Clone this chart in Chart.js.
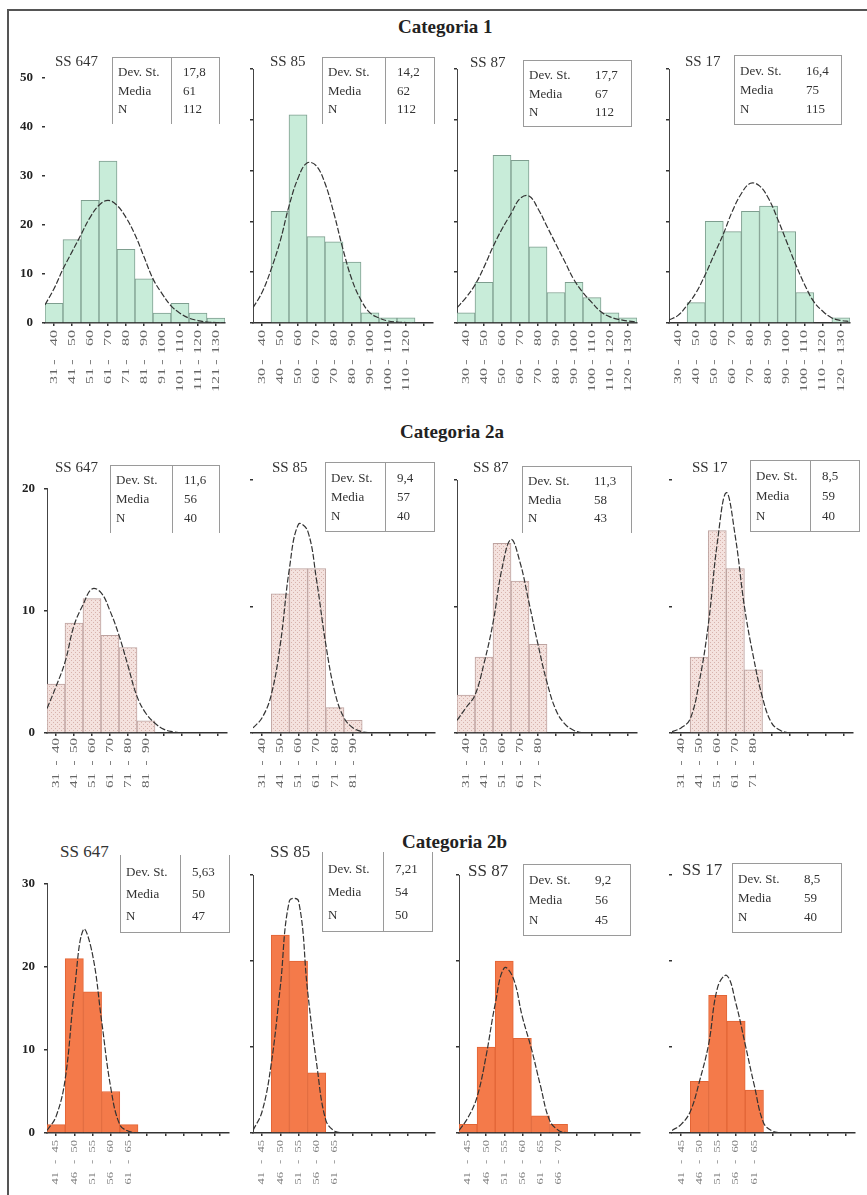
<!DOCTYPE html>
<html><head><meta charset="utf-8">
<script src="https://cdn.jsdelivr.net/npm/chart.js@4.4.1/dist/chart.umd.min.js"></script>
<style>
body{margin:0;background:#fff;width:867px;height:1195px;position:relative;overflow:hidden;font-family:"Liberation Serif","Times New Roman",serif;}
.fr-top{position:absolute;left:7px;top:9px;width:860px;height:0;border-top:2px solid #555;}
.fr-left{position:absolute;left:7px;top:9px;width:0;height:1186px;border-left:2px solid #555;}
.cat{position:absolute;font-weight:bold;font-size:19px;color:#222;white-space:nowrap;}
.ss{position:absolute;color:#333;white-space:nowrap;}
.box{position:absolute;border:1px solid #9a9a9a;box-sizing:border-box;}
.div{position:absolute;width:0;border-left:1px solid #9a9a9a;}
.bt{position:absolute;font-size:13px;color:#333;white-space:nowrap;line-height:14px;}
canvas{position:absolute;}
</style></head>
<body>
<div class="fr-top"></div><div class="fr-left"></div>
<div class="cat" style="left:398px;top:16px;">Categoria 1</div>
<div class="cat" style="left:400px;top:421px;">Categoria 2a</div>
<div class="cat" style="left:402px;top:831px;">Categoria 2b</div>
<script>
// ---------- DATA ----------
// Categoria 1
const labels1a = ['31 - 40','41 - 50','51 - 60','61 - 70','71 - 80','81 - 90','91 - 100','101 - 110','111 - 120','121 - 130'];
const counts1a = [4,17,25,33,15,9,2,4,2,1];
const curve1a = [3.7,7,11,14.5,18,21.5,24,25,24,21.5,18,13.5,9,6,3.5,2,1,0.5,0.2,0.1,0];
const stats1a = ['17,8','61','112'];

const labels1b = ['30 - 40','40 - 50','50 - 60','60 - 70','70 - 80','80 - 90','90 - 100','100 - 110','110 - 120',''];
const counts1b = [null,22,41,17,16,12,2,1,1,null];
const curve1b = [3,6,10.5,16,23,28.5,31.5,31,27.5,21.5,14.5,8.5,4.5,2,1,0.4,0.2,0.1,0];
const stats1b = ['14,2','62','112'];

const labels1c = ['30 - 40','40 - 50','50 - 60','60 - 70','70 - 80','80 - 90','90 - 100','100 - 110','110 - 120','120 - 130'];
const counts1c = [2,8,33,32,15,6,8,5,2,1];
const curve1c = [3,5,7.5,11,15,18.5,21.5,24.5,25,22.5,19,15.5,12,8.5,6,4,2.2,1.2,0.7,0.4,0.2];
const stats1c = ['17,7','67','112'];

const labels1d = ['30 - 40','40 - 50','50 - 60','60 - 70','70 - 80','80 - 90','90 - 100','100 - 110','110 - 120','120 - 130'];
const counts1d = [null,4,20,18,22,23,18,6,null,1];
const curve1d = [0.6,1.5,3.5,6,9.5,13.5,17.5,22,25.5,27.5,27,24.5,20.5,16,11.5,7.5,4.2,2.3,1,0.5,0.3];
const stats1d = ['16,4','75','115'];

// Categoria 2a
const labels2a = ['31 - 40','41 - 50','51 - 60','61 - 70','71 - 80','81 - 90','','','',''];
const counts2a = [4,9,11,8,7,1,null,null,null,null];
const curve2a = [2,3.8,5.8,8.8,10.5,11.8,11.5,10,8,5.5,3,1.6,0.8,0.3,0.1,0];
const stats2a = ['11,6','56','40'];

const labels2b = ['31 - 40','41 - 50','51 - 60','61 - 70','71 - 80','81 - 90','','','',''];
const counts2b = [null,11,13,13,2,1,null,null,null,null];
const curve2b = [0.4,1.2,3,7,13,16.5,16,12,7,3.2,1.2,0.4,0.1,0];
const stats2b = ['9,4','57','40'];

const labels2c = ['31 - 40','41 - 50','51 - 60','61 - 70','71 - 80','','','','',''];
const counts2c = [3,6,15,12,7,null,null,null,null,null];
const curve2c = [1,2,3,5.5,8.7,13,15.3,13.5,10.3,7,4,1.8,0.7,0.2,0];
const stats2c = ['11,3','58','43'];

const labels2d = ['31 - 40','41 - 50','51 - 60','61 - 70','71 - 80','','','','',''];
const counts2d = [null,6,16,13,5,null,null,null,null,null];
const curve2d = [0.1,0.4,1.1,4,8.5,15,19,15.5,10,6,2.8,0.8,0.2,0];
const stats2d = ['8,5','59','40'];

// Categoria 2b
const labels3a = ['41 - 45','46 - 50','51 - 55','56 - 60','61 - 65','','','','',''];
const counts3a = [1,21,17,5,1,null,null,null,null,null];
const curve3a = [0.3,2,6.5,17,24.5,21.5,13.5,5.5,1,0.2,0];
const stats3a = ['5,63','50','47'];

const labels3b = ['41 - 45','46 - 50','51 - 55','56 - 60','61 - 65','','','','',''];
const counts3b = [null,23,20,7,null,null,null,null,null,null];
const curve3b = [0.3,2.5,8,17,27,27,16.5,8,1.5,0.2,0];
const stats3b = ['7,21','54','50'];

const labels3c = ['41 - 45','46 - 50','51 - 55','56 - 60','61 - 65','66 - 70','','','',''];
const counts3c = [1,10,20,11,2,1,null,null,null,null];
const curve3c = [0.3,1.8,4.2,9,15,19.2,18,13.5,9.8,5.5,1.5,0.3,0];
const stats3c = ['9,2','56','45'];

const labels3d = ['41 - 45','46 - 50','51 - 55','56 - 60','61 - 65','','','','',''];
const counts3d = [null,6,16,13,5,null,null,null,null,null];
const curve3d = [0.3,1,2.5,6,10.3,17,18.3,15,10.3,5.5,1.2,0.2,0];
const stats3d = ['8,5','59','40'];

const statNames = ['Dev. St.','Media','N'];

// ---------- STYLE / LAYOUT ----------
function dotPattern(bg, dot){
  const c=document.createElement('canvas');c.width=4;c.height=4;
  const g=c.getContext('2d');g.fillStyle=bg;g.fillRect(0,0,4,4);
  g.fillStyle=dot;g.fillRect(0,0,1,1);g.fillRect(2,2,1,1);
  return g.createPattern(c,'repeat');
}
const rows = [
  {plotTop:69, plotBottom:323, ymax:50, fill:'#c8ecd9', border:'#7e9e8f', titleSize:15,
   lbl:{size:10, stretch:1.6, o1:7, od:39, o2:45, color:'#666'}},
  {plotTop:480, plotBottom:733, ymax:20, fill:dotPattern('#f4e2de','#d7b2ac'), border:'#bda3a0', titleSize:15,
   lbl:{size:10, stretch:1.5, o1:5, od:30, o2:40, color:'#666'}},
  {plotTop:875, plotBottom:1133, ymax:30, fill:'#f47a4a', border:'#e26536', titleSize:17,
   lbl:{size:9, stretch:1.4, o1:7, od:29, o2:39, color:'#777'}}
];
const panels = [
  {row:0, axisX:45,  w:180, labels:labels1a, counts:counts1a, curve:curve1a, stats:stats1a, title:'SS 647', tx:55,  ty:53,  box:[112,57,108,67], div:171, open:'bottom', yLabels:true,  yLine:false},
  {row:0, axisX:253, w:180, labels:labels1b, counts:counts1b, curve:curve1b, stats:stats1b, title:'SS 85',  tx:270, ty:53,  box:[322,57,113,67], div:385, open:'bottom', yLabels:false, yLine:true},
  {row:0, axisX:457, w:180, labels:labels1c, counts:counts1c, curve:curve1c, stats:stats1c, title:'SS 87',  tx:470, ty:54,  box:[523,60,109,67], div:null, open:null, yLabels:false, yLine:true},
  {row:0, axisX:669, w:181, labels:labels1d, counts:counts1d, curve:curve1d, stats:stats1d, title:'SS 17',  tx:685, ty:53,  box:[734,55,108,70], div:null, open:null, yLabels:false, yLine:true},
  {row:1, axisX:47,  w:180, labels:labels2a, counts:counts2a, curve:curve2a, stats:stats2a, title:'SS 647', tx:55,  ty:459, box:[110,465,110,68], div:172, open:'bottom', yLabels:true,  yLine:true},
  {row:1, axisX:253, w:182, labels:labels2b, counts:counts2b, curve:curve2b, stats:stats2b, title:'SS 85',  tx:272, ty:459, box:[325,462,110,70], div:385, open:null, yLabels:false, yLine:false},
  {row:1, axisX:457, w:180, labels:labels2c, counts:counts2c, curve:curve2c, stats:stats2c, title:'SS 87',  tx:473, ty:459, box:[522,466,110,67], div:null, open:'bottom', yLabels:false, yLine:true},
  {row:1, axisX:672, w:181, labels:labels2d, counts:counts2d, curve:curve2d, stats:stats2d, title:'SS 17',  tx:692, ty:459, box:[750,460,110,72], div:810, open:null, yLabels:false, yLine:false},
  {row:2, axisX:47,  w:182, labels:labels3a, counts:counts3a, curve:curve3a, stats:stats3a, title:'SS 647', tx:60,  ty:842, box:[120,855,110,78], div:180, open:'top', yLabels:true,  yLine:true},
  {row:2, axisX:253, w:182, labels:labels3b, counts:counts3b, curve:curve3b, stats:stats3b, title:'SS 85',  tx:270, ty:842, box:[322,852,111,80], div:383, open:'top', yLabels:false, yLine:true},
  {row:2, axisX:459, w:181, labels:labels3c, counts:counts3c, curve:curve3c, stats:stats3c, title:'SS 87',  tx:468, ty:861, box:[523,864,108,72], div:null, open:null, yLabels:false, yLine:true},
  {row:2, axisX:672, w:183, labels:labels3d, counts:counts3d, curve:curve3d, stats:stats3d, title:'SS 17',  tx:682, ty:860, box:[732,863,110,70], div:null, open:null, yLabels:false, yLine:false}
];

// draws the "a - b" bin labels, rotated, at the category scale's own tick pixels
const stretchLabels = {
  id:'stretchLabels',
  afterDraw(chart, args, o){
    const xs = chart.scales.x, ctx = chart.ctx;
    ctx.save();
    ctx.font = o.size + 'px "Liberation Serif", serif';
    ctx.fillStyle = o.color;
    ctx.textBaseline = 'middle';
    chart.data.labels.forEach((lab,i)=>{
      if(!lab) return;
      const parts = lab.split(' - ');
      const x = xs.getPixelForTick(i);
      ctx.save();
      ctx.translate(x, xs.top);
      ctx.rotate(-Math.PI/2);
      const put = (txt, off, align)=>{
        ctx.save(); ctx.translate(-off, 0); ctx.scale(o.stretch, 1);
        ctx.textAlign = align; ctx.fillText(txt, 0, 0); ctx.restore();
      };
      put(parts[1], o.o1, 'right');
      put('-', o.od, 'center');
      put(parts[0], o.o2, 'right');
      ctx.restore();
    });
    ctx.restore();
  }
};

const YW = 40, PT = 8, PR = 4, XH = 75;
panels.forEach(p=>{
  const r = rows[p.row];
  const cv = document.createElement('canvas');
  const W = YW + p.w + PR, H = PT + (r.plotBottom - r.plotTop) + XH;
  cv.width = W; cv.height = H;
  cv.style.left = (p.axisX - YW) + 'px';
  cv.style.top = (r.plotTop - PT) + 'px';
  cv.style.width = W + 'px'; cv.style.height = H + 'px';
  document.body.appendChild(cv);
  new Chart(cv.getContext('2d'), {
    type:'bar',
    data:{
      labels:p.labels,
      datasets:[
        {type:'bar', data:p.counts, xAxisID:'x', yAxisID:'y', backgroundColor:r.fill, borderColor:r.border,
         borderWidth:1, grouped:false, barThickness:p.w/10, order:2},
        {type:'line', data:p.curve.map((v,i)=>({x:i*0.5-0.5, y:v})), xAxisID:'xc', yAxisID:'y',
         borderColor:'#333', borderWidth:1.2, borderDash:[6,2], pointRadius:0, tension:0.4, fill:false, order:1}
      ]
    },
    options:{
      responsive:false, animation:false, devicePixelRatio:1,
      layout:{padding:{top:PT, right:PR, left:0, bottom:0}},
      plugins:{legend:{display:false}, tooltip:{enabled:false}, stretchLabels:r.lbl},
      scales:{
        x:{type:'category', offset:true, ticks:{display:false},
           grid:{offset:false, drawOnChartArea:false, tickLength:3, color:'#333', lineWidth:1.5},
           border:{color:'#333', width:1.5}, afterFit(s){s.height = XH;}},
        xc:{type:'linear', display:false, offset:false, min:-0.5, max:9.5},
        y:{min:0, max:r.ymax, ticks:{stepSize:10, display:p.yLabels, padding:9, color:'#222',
             font:{family:'"Liberation Serif", serif', size:13, weight:'bold'}},
           grid:{drawOnChartArea:false, tickLength:3, color:'#333', lineWidth:1.5},
           border:{display:p.yLine, color:'#444', width:1}, afterFit(s){s.width = YW;}}
      }
    },
    plugins:[stretchLabels]
  });

  // panel title
  const t = document.createElement('div');
  t.className = 'ss'; t.textContent = p.title;
  t.style.left = p.tx + 'px'; t.style.top = p.ty + 'px'; t.style.fontSize = r.titleSize + 'px';
  document.body.appendChild(t);

  // stats box
  const [bx,by,bw,bh] = p.box;
  const b = document.createElement('div');
  b.className = 'box';
  b.style.left = bx+'px'; b.style.top = by+'px'; b.style.width = bw+'px'; b.style.height = bh+'px';
  if(p.open==='bottom') b.style.borderBottom = 'none';
  if(p.open==='top') b.style.borderTop = 'none';
  document.body.appendChild(b);
  if(p.div){
    const d = document.createElement('div');
    d.className = 'div';
    d.style.left = p.div+'px'; d.style.top = by+'px'; d.style.height = bh+'px';
    document.body.appendChild(d);
  }
  const vx = p.div ? p.div + 12 : bx + 72;
  const step = (bh - 12) / 3;
  statNames.forEach((nm,i)=>{
    const ty = by + 6 + step*i + (step-14)/2;
    const a = document.createElement('div');
    a.className='bt'; a.textContent = nm; a.style.left=(bx+6)+'px'; a.style.top=ty+'px';
    document.body.appendChild(a);
    const v = document.createElement('div');
    v.className='bt'; v.textContent = p.stats[i]; v.style.left=vx+'px'; v.style.top=ty+'px';
    document.body.appendChild(v);
  });
});
</script>
</body></html>
